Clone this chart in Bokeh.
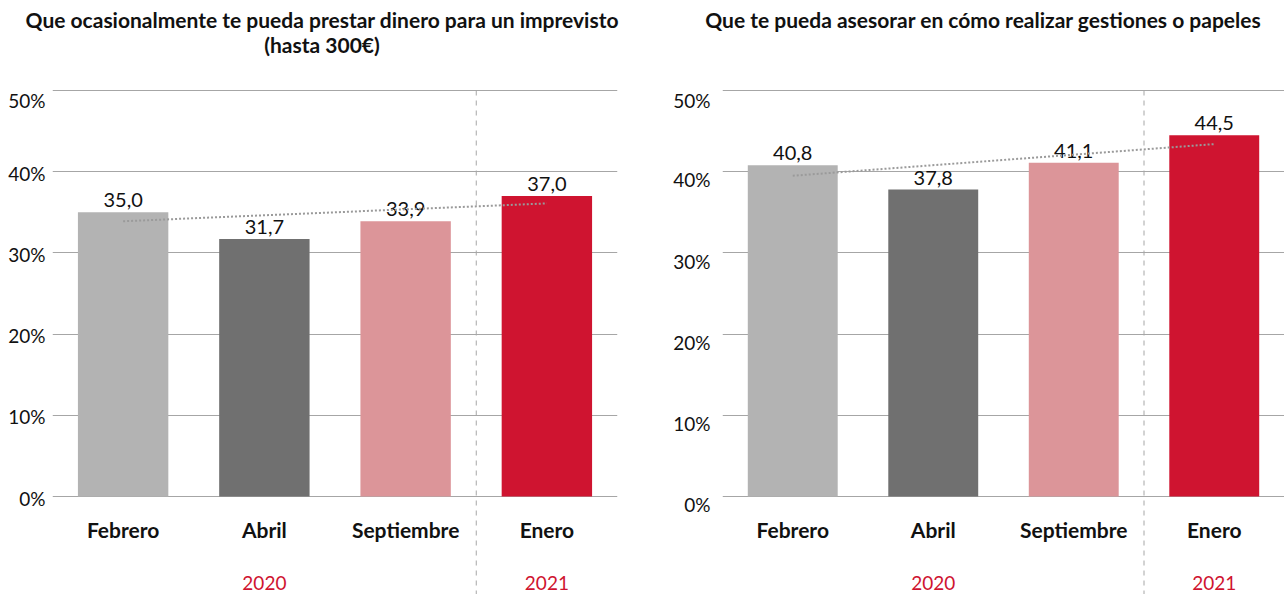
from bokeh.plotting import figure
from bokeh.layouts import row, column
from bokeh.models import FactorRange, Range1d, FixedTicker, LinearAxis, ColumnDataSource, Div
from bokeh.core.properties import value
from bokeh.embed import file_html
from bokeh.resources import INLINE

# ---- data ----
months = ["Febrero", "Abril", "Septiembre", "Enero"]
years = ["2020", "2021"]
year_anchor = ["Abril", "Enero"]
bar_colors = ["#b3b3b3", "#707070", "#dc9599", "#cf1430"]
left_values = [35.0, 31.7, 33.9, 37.0]
right_values = [40.8, 37.8, 41.1, 44.5]
left_trend = [33.9, 36.1]
right_trend = [39.5, 43.4]
y_ticks = [0, 10, 20, 30, 40, 50]
y_tick_labels = ["0%", "10%", "20%", "30%", "40%", "50%"]
left_title = ["Que ocasionalmente te pueda prestar dinero para un imprevisto", "(hasta 300€)"]
right_title = ["Que te pueda asesorar en cómo realizar gestiones o papeles"]

FONT = "Lato"
TITLE_H = 88
H = 506
PX_PER_UNIT = 8.12
TOP_GAP = 2
Y_MAX = 50 + TOP_GAP / PX_PER_UNIT
Y_MIN = Y_MAX - H / PX_PER_UNIT
MONTH_Y = -33 / PX_PER_UNIT
YEAR_Y = -86 / PX_PER_UNIT
RED = "#cf1430"
GRID = "#a6a6a6"
INK = "#111111"


def title_div(lines, width, shift):
    html = ("<div style=\"font-family: Lato; font-weight: bold; font-size: 21px; "
            "line-height: 25px; color: #111111; text-align: center; padding-top: 7px; "
            f"width: {width}px; position: relative; left: {shift}px; white-space: nowrap;\">"
            + "<br>".join(lines) + "</div>")
    return Div(text=html, width=width, height=TITLE_H, margin=0)


def panel(values, trend, width, bl, br, label_shift, label_standoff):
    p = figure(width=width, height=H,
               x_range=FactorRange(factors=months, range_padding=0, factor_padding=0),
               y_range=Range1d(Y_MIN, Y_MAX),
               x_axis_location=None, y_axis_location=None,
               output_backend="svg", toolbar_location=None,
               min_border_left=bl, min_border_right=br, min_border_top=0,
               min_border_bottom=0, outline_line_color=None, margin=0)

    p.xgrid.visible = False
    p.ygrid.ticker = FixedTicker(ticks=y_ticks)
    p.ygrid.grid_line_color = GRID
    p.ygrid.grid_line_width = 1

    p.extra_y_ranges = {"lab": Range1d(Y_MIN + label_shift, Y_MAX + label_shift)}
    ax = LinearAxis(y_range_name="lab", ticker=FixedTicker(ticks=y_ticks),
                    major_label_overrides=dict(zip(y_ticks, y_tick_labels)),
                    axis_line_color=None, major_tick_line_color=None,
                    minor_tick_line_color=None, major_tick_out=0, major_tick_in=0,
                    minor_tick_out=0, minor_tick_in=0,
                    major_label_standoff=label_standoff,
                    major_label_text_font=FONT, major_label_text_font_size="19px",
                    major_label_text_color=INK)
    p.add_layout(ax, "left")

    src = ColumnDataSource(dict(month=months, val=values, color=bar_colors,
                                label=[f"{v:.1f}".replace(".", ",") for v in values]))
    p.vbar(x="month", top="val", bottom=0, width=0.64, fill_color="color",
           line_color=None, source=src)
    p.text(x="month", y="val", text="label", text_align="center", text_baseline="bottom",
           y_offset=-5, text_font=value(FONT), text_font_size="20px",
           text_color=INK, source=src)
    p.line(x=[months[0], months[-1]], y=trend, line_color="#9a9a9a", line_width=2,
           line_dash="2 2")
    p.segment(x0=[3], y0=[50], x1=[3], y1=[Y_MIN], line_color=GRID, line_width=1,
              line_dash="5 5")
    p.text(x=months, y=[MONTH_Y] * len(months), text=months, text_align="center",
           text_baseline="middle", text_font=value(FONT), text_font_size="21px",
           text_font_style="bold", text_color=INK)
    p.text(x=year_anchor, y=[YEAR_Y] * len(years), text=years, text_align="center",
           text_baseline="middle", text_font=value(FONT), text_font_size="19px",
           text_color=RED)
    return p


LW, RW = 640, 644
left = panel(left_values, left_trend, LW, 52, 23, 0.2, 7)
right = panel(right_values, right_trend, RW, 82, 0, 1.0, 12)

layout = row(column(title_div(left_title, LW, 2), left, spacing=0),
             column(title_div(right_title, RW, 21), right, spacing=0), spacing=0)
open("out.html", "w").write(file_html(layout, INLINE))
